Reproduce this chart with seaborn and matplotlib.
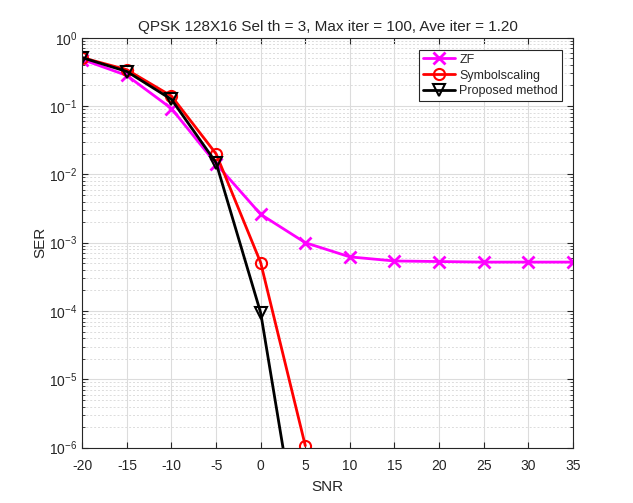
import numpy as np
import pandas as pd
import matplotlib
matplotlib.use('Agg')
import matplotlib.pyplot as plt
import seaborn as sns
from matplotlib.ticker import FixedLocator, LogLocator, MultipleLocator, NullFormatter

snr = [-20, -15, -10, -5, 0, 5, 10, 15, 20, 25, 30, 35]
ser_zf = [0.48, 0.28, 0.092, 0.0143, 0.0026, 0.00100, 0.00062, 0.00054, 0.00053, 0.00052, 0.00052, 0.00052]
snr_ss = [-20, -15, -10, -5, 0, 5]
ser_ss = [0.51, 0.34, 0.14, 0.020, 0.00051, 1.07e-6]
snr_prop = [-20, -15, -10, -5, 0, 5]
ser_prop = [0.51, 0.32, 0.125, 0.0148, 9.4e-5, 1.07e-8]
y_ticks = [1e-6, 1e-5, 1e-4, 1e-3, 1e-2, 1e-1, 1e0]

sns.set_style('ticks')
plt.rcParams['font.family'] = ['Liberation Sans', 'DejaVu Sans']
plt.rcParams['mathtext.fontset'] = 'custom'
plt.rcParams['mathtext.rm'] = 'Liberation Sans'
plt.rcParams['axes.unicode_minus'] = False

fig = plt.figure(figsize=(6.33, 5.03), dpi=100)
ax = fig.add_axes([0.13, 0.11, 0.775, 0.815])

sns.lineplot(x=snr, y=ser_zf, ax=ax, color='magenta', lw=2, ls='-', marker='x', markersize=8,
             markeredgewidth=2, markeredgecolor='magenta', label='ZF')
sns.lineplot(x=snr_ss, y=ser_ss, ax=ax, color='red', lw=2, ls='-', marker='o', markersize=8,
             markerfacecolor='none', markeredgecolor='red', markeredgewidth=1.5, label='Symbolscaling')
sns.lineplot(x=snr_prop, y=ser_prop, ax=ax, color='black', lw=2, ls='-', marker='v', markersize=8,
             markerfacecolor='none', markeredgecolor='black', markeredgewidth=1.5, label='Proposed method')

ax.set_yscale('log')
ax.set_xlim(-20, 35)
ax.set_ylim(1e-6, 1)
ax.xaxis.set_major_locator(MultipleLocator(5))
ax.yaxis.set_major_locator(FixedLocator(y_ticks))
ax.yaxis.set_minor_locator(LogLocator(base=10, subs=np.arange(2, 10), numticks=20))
ax.yaxis.set_minor_formatter(NullFormatter())

ax.grid(True, which='major', color='#dcdcdc', lw=0.8, ls='-')
ax.grid(True, which='minor', axis='y', color='#dcdcdc', lw=0.7, ls=(0, (2, 2)))
ax.set_axisbelow(True)

for s in ax.spines.values():
    s.set_color('#262626')
    s.set_linewidth(0.8)
ax.tick_params(which='both', direction='in', top=True, right=True, colors='#262626',
               labelsize=10)
ax.tick_params(which='major', length=4)
ax.tick_params(which='minor', length=2)
ax.tick_params(axis='x', pad=8)

ax.set_xlabel('SNR', fontsize=11, color='#262626')
ax.set_ylabel('SER', fontsize=11, color='#262626')
ax.xaxis.set_label_coords(0.5, -0.079)
ax.yaxis.set_label_coords(-0.071, 0.5)
ax.set_title('QPSK 128X16 Sel th = 3, Max iter = 100, Ave iter = 1.20', fontsize=11, pad=5)

leg = ax.legend(loc='upper right', bbox_to_anchor=(0.99, 0.985), fontsize=9, frameon=True,
                fancybox=False, edgecolor='#262626', framealpha=1, handlelength=2.6,
                borderpad=0.3, labelspacing=0.3, handletextpad=0.3)
leg.get_frame().set_linewidth(0.8)

fig.savefig('out.png', dpi=100)
